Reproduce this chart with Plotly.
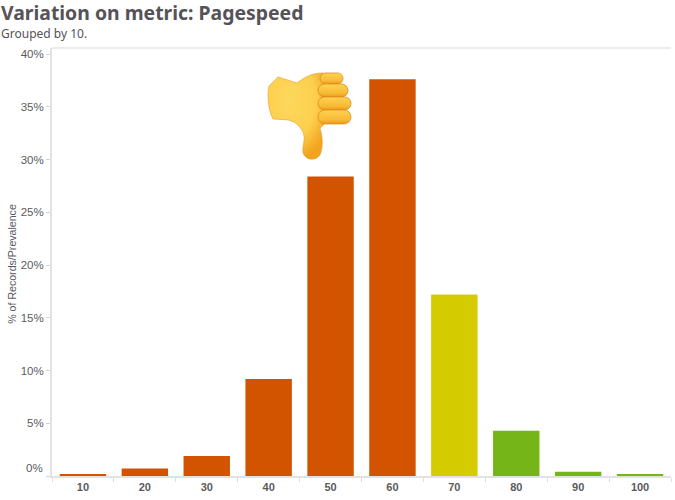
import base64
import plotly.graph_objects as go

categories = ["10", "20", "30", "40", "50", "60", "70", "80", "90", "100"]
values = [0.2, 0.7, 1.9, 9.2, 28.4, 37.6, 17.2, 4.3, 0.4, 0.2]
colors = ["#d35400"] * 6 + ["#d4cb00"] + ["#76b518"] * 3
y_ticks = [0, 5, 10, 15, 20, 25, 30, 35, 40]
y_labels = ["", "5%", "10%", "15%", "20%", "25%", "30%", "35%", "40%"]
W, H = 675, 500
L, R, T, B = 52, 4, 48, 23.5
INK = "#5a5a5e"

thumb = """<svg xmlns='http://www.w3.org/2000/svg' width='330' height='330' viewBox='0 0 110 110'>
<defs><radialGradient id='g' cx='38%' cy='32%' r='70%'><stop offset='0' stop-color='#fdd85c'/><stop offset='0.62' stop-color='#fdcf4e'/><stop offset='1' stop-color='#f2a41f'/></radialGradient>
<linearGradient id='f' x1='0' y1='0' x2='0' y2='1'><stop offset='0' stop-color='#fdd252'/><stop offset='0.7' stop-color='#f9bb35'/><stop offset='1' stop-color='#ec9a1e'/></linearGradient></defs>
<path d='M23 17 L42 23 C50 17 57 13 68 13 L72 62 L65 68 C68 78 68 88 65 95 C61 101 51 101 48 93 C47 85 51 80 48 72 C44 64 38 61 33 60 L18 59 C13 50 12 34 14 26 Z' fill='url(#g)' stroke='#e69a2a' stroke-width='0.6'/>
<rect x='65' y='13' width='23' height='11' rx='5.5' fill='url(#f)' stroke='#de8a1e' stroke-width='0.8'/>
<rect x='63' y='24' width='30' height='13' rx='6.5' fill='url(#f)' stroke='#de8a1e' stroke-width='0.8'/>
<rect x='63' y='37' width='33' height='13' rx='6.5' fill='url(#f)' stroke='#de8a1e' stroke-width='0.8'/>
<rect x='63' y='50' width='33' height='14' rx='7' fill='url(#f)' stroke='#de8a1e' stroke-width='0.8'/>
</svg>"""
thumb_uri = "data:image/svg+xml;base64," + base64.b64encode(thumb.encode()).decode()

fig = go.Figure(go.Bar(x=categories, y=values, marker=dict(color=colors, line=dict(width=0)),
                       width=0.75, hoverinfo="skip"))
fig.update_layout(
    width=W, height=H, autosize=False,
    margin=dict(l=L, r=R, t=T, b=B, pad=0),
    paper_bgcolor="white", plot_bgcolor="white", showlegend=False,
    xaxis=dict(type="category", categoryorder="array", categoryarray=categories,
               range=[-0.5, 9.5], showgrid=False, zeroline=False, showline=True,
               linecolor="#e2e2e2", linewidth=2, ticks="outside", tickson="boundaries",
               ticklen=4, tickcolor="#dcdcdc", tickwidth=1,
               tickfont=dict(family="Liberation Sans", size=11, color=INK, weight=700), fixedrange=True),
    yaxis=dict(range=[0, 40.57], tickmode="array", tickvals=y_ticks, ticktext=y_labels,
               showgrid=False, zeroline=False, showline=True, linecolor="#e2e2e2", linewidth=2,
               mirror=False, ticks="outside", ticklen=4, tickcolor="#d4d4d4", tickwidth=1,
               tickfont=dict(family="Liberation Sans", size=11.5, color=INK), fixedrange=True),
    annotations=[
        dict(text="<b>Variation on metric: Pagespeed</b>", xref="paper", yref="paper", x=-(L+1.5)/(W-L-R), y=1+(T+3)/(H-T-B),
             xanchor="left", yanchor="top", showarrow=False, font=dict(family="Noto Sans", size=19.4, color="#555258")),
        dict(text="Grouped by 10.", xref="paper", yref="paper", x=-(L+1.5)/(W-L-R), y=1+(T-23)/(H-T-B),
             xanchor="left", yanchor="top", showarrow=False, font=dict(family="Noto Sans", size=12, color="#555258")),
        dict(text="0%", xref="paper", yref="y", x=-7/(W-L-R), y=0.8, xanchor="right", yanchor="middle",
             showarrow=False, font=dict(family="Liberation Sans", size=11.5, color=INK)),
        dict(text="% of Records/Prevalence", xref="paper", yref="paper", x=-(L-12)/(W-L-R), y=1-(264-T)/(H-T-B),
             xanchor="center", yanchor="middle", textangle=-90, showarrow=False,
             font=dict(family="Liberation Sans", size=10.6, color=INK)),
    ],
    shapes=[dict(type="line", xref="paper", yref="paper", x0=0, x1=1, y0=1, y1=1, line=dict(color="#ececec", width=2))],
    images=[dict(source=thumb_uri, xref="paper", yref="paper", x=(255-L)/(W-L-R), y=1-(60-T)/(H-T-B),
                 sizex=110/(W-L-R), sizey=110/(H-T-B), xanchor="left", yanchor="top", sizing="stretch", layer="above")],
)
fig.write_html("out.html", config={"displayModeBar": False}, post_script="document.body.style.margin='0';")
